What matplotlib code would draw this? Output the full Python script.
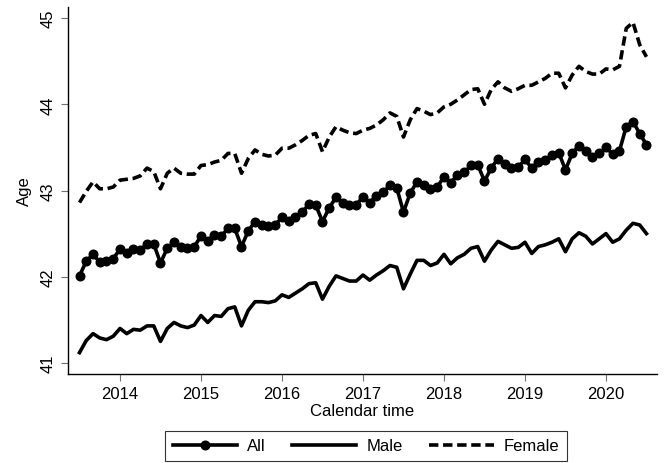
import numpy as np
import matplotlib

matplotlib.use("Agg")
import matplotlib.pyplot as plt

plt.rcParams["font.family"] = ["Liberation Sans", "DejaVu Sans"]

# monthly series, Jul 2013 .. Jul 2020
start_year = 2013
start_month = 7

age_all = [
    42.01, 42.18, 42.26, 42.17, 42.18, 42.21,
    42.32, 42.27, 42.32, 42.31, 42.38, 42.38, 42.16, 42.33, 42.40, 42.35, 42.33, 42.35,
    42.47, 42.42, 42.48, 42.47, 42.56, 42.56, 42.35, 42.53, 42.64, 42.60, 42.59, 42.60,
    42.69, 42.65, 42.69, 42.75, 42.84, 42.83, 42.64, 42.80, 42.92, 42.86, 42.83, 42.83,
    42.93, 42.86, 42.94, 42.98, 43.06, 43.03, 42.75, 42.97, 43.10, 43.06, 43.02, 43.04,
    43.16, 43.09, 43.18, 43.21, 43.29, 43.30, 43.11, 43.26, 43.37, 43.31, 43.26, 43.27,
    43.36, 43.26, 43.33, 43.35, 43.41, 43.44, 43.24, 43.43, 43.52, 43.46, 43.39, 43.43,
    43.50, 43.42, 43.46, 43.74, 43.80, 43.66, 43.53,
]

age_male = [
    41.12, 41.26, 41.34, 41.29, 41.27, 41.31,
    41.40, 41.34, 41.39, 41.38, 41.43, 41.43, 41.25, 41.40, 41.47, 41.43, 41.41, 41.44,
    41.55, 41.47, 41.55, 41.54, 41.63, 41.65, 41.43, 41.61, 41.71, 41.71, 41.70, 41.72,
    41.79, 41.76, 41.81, 41.86, 41.92, 41.93, 41.74, 41.89, 42.01, 41.98, 41.95, 41.95,
    42.02, 41.96, 42.02, 42.07, 42.13, 42.11, 41.86, 42.03, 42.19, 42.19, 42.13, 42.16,
    42.26, 42.15, 42.22, 42.26, 42.33, 42.35, 42.18, 42.31, 42.41, 42.37, 42.33, 42.34,
    42.40, 42.27, 42.35, 42.37, 42.40, 42.44, 42.29, 42.44, 42.51, 42.47, 42.38, 42.44,
    42.50, 42.40, 42.44, 42.54, 42.62, 42.60, 42.50,
]

age_female = [
    42.86, 42.99, 43.10, 43.02, 43.02, 43.04,
    43.12, 43.13, 43.14, 43.17, 43.26, 43.22, 43.02, 43.20, 43.26, 43.20, 43.19, 43.19,
    43.29, 43.30, 43.33, 43.35, 43.43, 43.43, 43.20, 43.37, 43.47, 43.42, 43.40, 43.41,
    43.49, 43.49, 43.53, 43.58, 43.64, 43.66, 43.45, 43.62, 43.74, 43.70, 43.67, 43.66,
    43.70, 43.72, 43.76, 43.82, 43.90, 43.86, 43.62, 43.82, 43.95, 43.92, 43.88, 43.90,
    43.97, 44.00, 44.05, 44.11, 44.17, 44.18, 44.00, 44.17, 44.26, 44.19, 44.15, 44.18,
    44.22, 44.22, 44.26, 44.30, 44.36, 44.36, 44.19, 44.34, 44.44, 44.38, 44.35, 44.35,
    44.41, 44.40, 44.44, 44.88, 44.95, 44.69, 44.55,
]

year_ticks = [2014, 2015, 2016, 2017, 2018, 2019, 2020]
age_ticks = [41, 42, 43, 44, 45]

# time in fractional years (Jan of a year = integer)
t = start_year + (start_month - 1) / 12 + np.arange(len(age_all)) / 12

fig = plt.figure(figsize=(6.67, 4.64), dpi=100)
ax = fig.add_axes([68 / 667, 1 - 375 / 464, (657 - 68) / 667, (375 - 8) / 464])

lw = 2.6
ax.plot(t, age_all, color="black", lw=lw, marker="o", markersize=6.2, label="All")
ax.plot(t, age_male, color="black", lw=lw, label="Male")
ax.plot(t, age_female, color="black", lw=lw, dashes=(2.6, 1.3), label="Female")

ax.set_xlim(2013.358, 2020.63)
ax.set_ylim(40.872, 45.128)
ax.set_xticks(year_ticks)
ax.set_xticklabels([str(y) for y in year_ticks])
ax.set_yticks(age_ticks)
ax.set_yticklabels([str(a) for a in age_ticks], rotation=90, va="center")

for side in ("top", "right"):
    ax.spines[side].set_visible(False)
for side in ("left", "bottom"):
    ax.spines[side].set_linewidth(1.0)
ax.tick_params(length=5, width=0.8, color="#707070", labelsize=12, pad=4)

ax.set_xlabel("Calendar time", fontsize=12, labelpad=1)
ax.set_ylabel("Age", fontsize=12, labelpad=6)

leg = fig.legend(
    loc="center",
    bbox_to_anchor=(366 / 667, 1 - 447 / 464),
    ncol=3,
    fontsize=12,
    handlelength=3.85,
    handletextpad=0.6,
    columnspacing=1.6,
    frameon=True,
    fancybox=False,
    borderpad=0.45,
)
leg.get_frame().set_edgecolor("black")
leg.get_frame().set_linewidth(0.8)

fig.savefig("out.png", dpi=100, facecolor="white")
